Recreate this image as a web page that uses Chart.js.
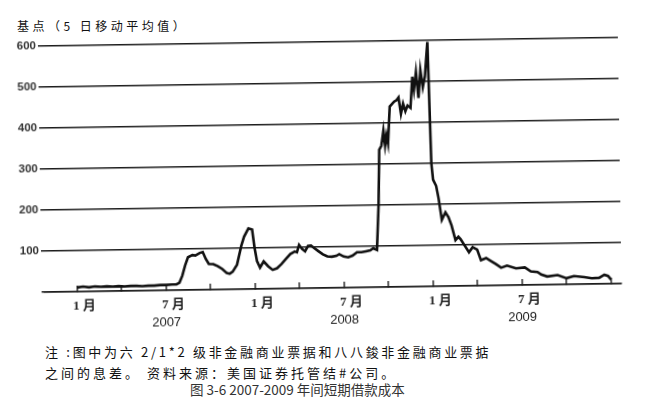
<!DOCTYPE html>
<html lang="zh">
<head>
<meta charset="utf-8">
<title>图 3-6 2007-2009 年间短期借款成本</title>
<script src="https://cdn.jsdelivr.net/npm/chart.js@4.4.1/dist/chart.umd.min.js"></script>
<style>
  html, body { margin: 0; padding: 0; background: #fff; }
  body {
    width: 645px; height: 412px; position: relative; overflow: hidden;
    font-family: 'Noto Sans CJK SC', sans-serif; color: #111;
  }
  #unit { position: absolute; left: 17px; top: 19px; font-size: 12px; line-height: 14px; letter-spacing: 3.5px; white-space: nowrap; }
  #wrap { position: absolute; left: 0; top: 30px; width: 645px; height: 305px; transform: rotate(-0.85deg); }
  .note { position: absolute; left: 45px; font-size: 13px; line-height: 16px; letter-spacing: 2.7px; white-space: nowrap; }
  #note1 { top: 344px; }
  #note2 { top: 365px; letter-spacing: 3px; }
  #caption { position: absolute; left: 190px; top: 381px; font-size: 13.5px; line-height: 16px; color: #333; white-space: nowrap; }
</style>
</head>
<body>
<div id="unit">基点（5 日移动平均值）</div>
<div id="wrap"><canvas id="spreadChart"></canvas></div>
<div class="note" id="note1">注 :图中为六 2/1*2 级非金融商业票据和八八鋑非金融商业票掂</div>
<div class="note" id="note2">之间的息差。 资料来源：美国证券托管结#公司。</div>
<div id="caption">图 3-6 2007-2009 年间短期借款成本</div>

<script>
// months counted from January 2007 (0 = 2007年1月)
const months = [
  0, 0.4, 0.8, 1.2, 1.6, 2.0, 2.4, 2.8, 3.2, 3.6, 4.0, 4.4, 4.8, 5.2, 5.6, 6.0, 6.4, 6.7, 6.9,
  7.1, 7.3, 7.5, 7.8, 8.0, 8.3, 8.5, 8.7, 8.9, 9.2, 9.5, 9.8, 10.1, 10.3, 10.5, 10.8,
  11.1, 11.3, 11.6, 11.85, 12.0, 12.15, 12.35, 12.6, 12.9, 13.2, 13.5, 13.8, 14.1, 14.4,
  14.7, 14.85, 15.0, 15.2, 15.4, 15.6, 15.8, 16.0, 16.3, 16.6, 16.9, 17.2, 17.5, 17.7,
  18.0, 18.3, 18.6, 18.9, 19.2, 19.5, 19.8, 20.0, 20.25, 20.4, 20.5, 20.65, 20.8, 20.9,
  21.0, 21.1, 21.25, 21.4, 21.55, 21.7, 21.85, 22.0, 22.15, 22.3, 22.45, 22.65, 22.8,
  22.9, 23.05, 23.2, 23.35, 23.5, 23.65, 23.85, 24.0, 24.1, 24.3, 24.45, 24.65, 24.9,
  25.1, 25.3, 25.55, 25.75, 25.9, 26.1, 26.45, 26.7, 27.0, 27.25, 27.6, 27.9, 28.25,
  28.6, 29.0, 29.6, 30.2, 30.6, 31.05, 31.3, 31.7, 32.4, 33.0, 33.5, 34.2, 34.7, 35.2,
  35.55, 35.8, 36.0
];
// spread in basis points, 5-day moving average
const spread = [
  10, 12, 10, 12, 11, 12, 11, 12, 11, 12, 12, 11, 12, 12, 13, 13, 14, 14, 18,
  35, 60, 80, 85, 84, 90, 92, 75, 63, 62, 57, 50, 40, 38, 43, 60,
  105, 128, 148, 145, 100, 68, 52, 67, 55, 46, 50, 60, 72, 84,
  90, 88, 106, 96, 90, 103, 104, 98, 90, 82, 77, 76, 78, 82,
  76, 74, 78, 86, 86, 88, 90, 95, 91, 200, 335, 345, 382, 345,
  370, 350, 440, 446, 452, 455, 462, 422, 447, 428, 442, 436, 512,
  480, 523, 460, 528, 486, 512, 596, 300, 260, 245, 215, 162, 180,
  168, 148, 112, 120, 114, 102, 82, 94, 88, 62, 67, 60, 52,
  43, 48, 41, 43, 33, 31, 25, 20, 23, 15, 20, 17, 14, 15,
  22, 19, 10
];

const tickMonths = [0, 3, 6, 9, 12, 15, 18, 21, 24, 27, 30, 33, 36];
const monthLabels = ['1 月', '', '7 月', '', '1 月', '', '7 月', '', '1 月', '', '7 月', '', ''];
const yearMonths = [6, 18, 30];
const yearLabels = ['2007', '2008', '2009'];

document.addEventListener('DOMContentLoaded', () => {
  const ctx = document.getElementById('spreadChart').getContext('2d');
  const ink = '#1c1c1c';

  new Chart(ctx, {
    type: 'line',
    data: {
      datasets: [{
        label: '息差',
        data: months.map((m, i) => ({ x: m, y: spread[i] })),
        borderColor: '#111',
        borderWidth: 2.6,
        pointRadius: 0,
        fill: false,
        tension: 0,
        xAxisID: 'x',
        yAxisID: 'y'
      }]
    },
    options: {
      animation: false,
      responsive: true,
      maintainAspectRatio: false,
      layout: { padding: { top: 12, right: 25, bottom: 0, left: 0 } },
      plugins: {
        legend: { display: false },
        tooltip: { enabled: false }
      },
      scales: {
        x: {
          type: 'linear',
          position: 'bottom',
          min: -2.2,
          max: 36.7,
          afterBuildTicks: axis => { axis.ticks = tickMonths.map(v => ({ value: v })); },
          afterFit: axis => { axis.height = 22; },
          ticks: {
            autoSkip: false,
            maxRotation: 0,
            padding: 13,
            labelOffset: 7,
            color: '#222',
            font: { family: "'Liberation Serif', 'Noto Sans CJK SC', serif", size: 13, weight: 'bold' },
            callback: v => monthLabels[tickMonths.indexOf(v)]
          },
          grid: { drawOnChartArea: false, drawTicks: true, tickLength: -6, color: ink, lineWidth: 1.4 },
          border: { display: true, color: ink, width: 1.6 }
        },
        years: {
          type: 'linear',
          position: 'bottom',
          min: -2.2,
          max: 36.7,
          afterBuildTicks: axis => { axis.ticks = yearMonths.map(v => ({ value: v })); },
          afterFit: axis => { axis.height = 25; },
          ticks: {
            autoSkip: false,
            maxRotation: 0,
            padding: 3,
            color: '#222',
            font: { family: "'Liberation Sans', Arial, sans-serif", size: 13 },
            callback: v => yearLabels[yearMonths.indexOf(v)]
          },
          grid: { display: false, drawTicks: false },
          border: { display: false }
        },
        y: {
          min: 0,
          max: 600,
          afterFit: axis => { axis.width = 43; },
          ticks: {
            stepSize: 100,
            padding: 2,
            color: '#333',
            font: { family: "'Liberation Sans', Arial, sans-serif", size: 11.5, weight: 'bold' },
            callback: v => (v === 0 ? '' : v)
          },
          grid: { color: ink, lineWidth: 1.5, tickLength: 3 },
          border: { display: false }
        }
      }
    }
  });
});
</script>
</body>
</html>
